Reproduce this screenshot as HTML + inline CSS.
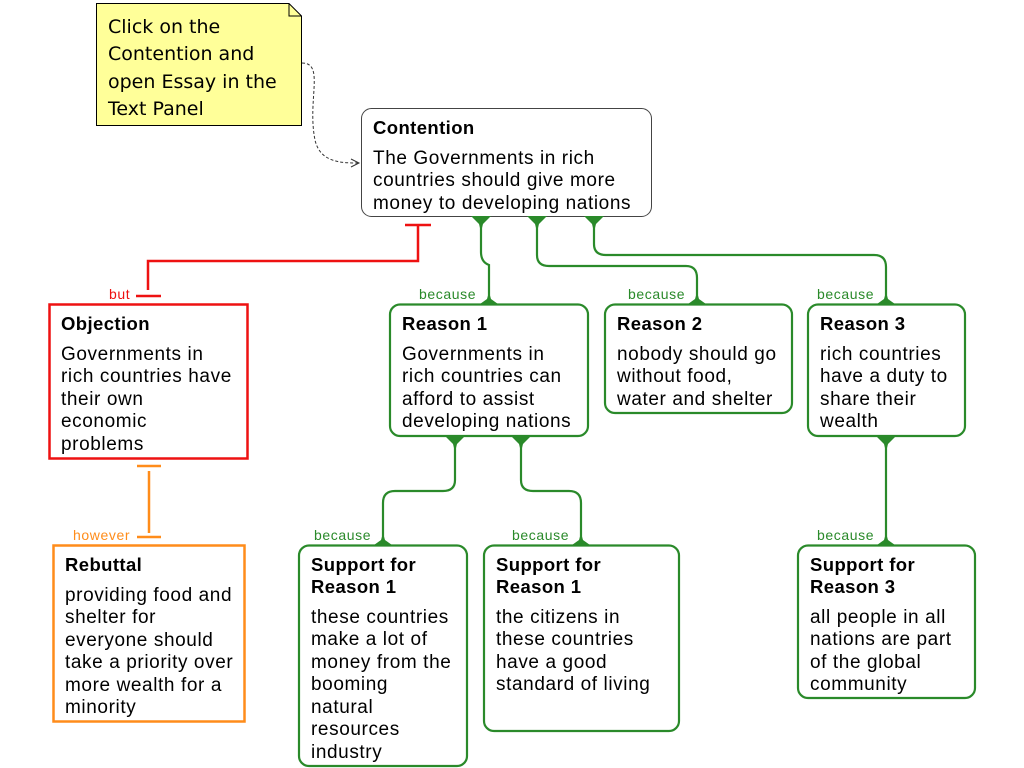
<!DOCTYPE html>
<html><head><style>
html,body{margin:0;padding:0;background:#fff;}
svg{display:block;font-family:"Liberation Sans",sans-serif;}
.t{font-weight:bold;font-size:18.5px;fill:#000;letter-spacing:0.4px;}
.b{font-size:19px;fill:#000;letter-spacing:0.6px;}
.n{font-size:19px;fill:#000;font-family:"DejaVu Sans","Liberation Sans",sans-serif;}
.g{fill:none;stroke:#2a8a2a;stroke-width:2.2;}
.lb{font-size:14px;letter-spacing:0.6px;}
</style></head><body>
<svg width="1024" height="768" viewBox="0 0 1024 768">
<path d="M96.5,3.5 H289 L301.5,16 V125.5 H96.5 Z" fill="#ffff99" stroke="#000" stroke-width="1"/>
<path d="M289,3.5 V16 H301.5" fill="none" stroke="#000" stroke-width="1"/>
<text class="n" x="108" y="33">Click on the</text>
<text class="n" x="108" y="60">Contention and</text>
<text class="n" x="108" y="88">open Essay in the</text>
<text class="n" x="108" y="115">Text Panel</text>
<path d="M302,63 C325,63 307,100 315,140 C320,162 340,163 358,163" fill="none" stroke="#333" stroke-width="1" stroke-dasharray="3,2"/>
<path d="M351,159 L359,163 L351,167" fill="none" stroke="#333" stroke-width="1"/>

<rect x="361.5" y="108.5" width="290" height="108" rx="10" fill="#fff" stroke="#444" stroke-width="1"/>
<text class="t" x="373" y="134">Contention</text>
<text class="b" x="373" y="164">The Governments in rich</text>
<text class="b" x="373" y="186">countries should give more</text>
<text class="b" x="373" y="209">money to developing nations</text>

<g stroke="#ee1111" stroke-width="2.5" fill="none">
<path d="M405,225 H431"/><path d="M418,225 V261 H148 V290"/><path d="M136,296 H161"/>
</g>
<text class="lb" x="109" y="299" fill="#ee1111">but</text>
<rect x="49.5" y="304.5" width="198" height="154" fill="#fff" stroke="#ee1111" stroke-width="2.5"/>
<text class="t" x="61" y="330">Objection</text>
<text class="b" x="61" y="360">Governments in</text>
<text class="b" x="61" y="382">rich countries have</text>
<text class="b" x="61" y="405">their own</text>
<text class="b" x="61" y="427">economic</text>
<text class="b" x="61" y="450">problems</text>

<g stroke="#ff8c1a" stroke-width="2.5" fill="none">
<path d="M137,466 H161"/><path d="M149,471 V533"/><path d="M137,537 H161"/>
</g>
<text class="lb" x="73" y="540" fill="#ff8c1a">however</text>
<rect x="53.5" y="545.5" width="191" height="176" fill="#fff" stroke="#ff8c1a" stroke-width="2.5"/>
<text class="t" x="65" y="571">Rebuttal</text>
<text class="b" x="65" y="601">providing food and</text>
<text class="b" x="65" y="623">shelter for</text>
<text class="b" x="65" y="646">everyone should</text>
<text class="b" x="65" y="668">take a priority over</text>
<text class="b" x="65" y="691">more wealth for a</text>
<text class="b" x="65" y="713">minority</text>

<g class="g">
<path d="M481,217 V252 Q481,262 489,265 V304"/>
<path d="M537,217 V255 Q537,266 549,266 H686 Q697,266 697,278 V304"/>
<path d="M594,217 V244 Q594,255 606,255 H874 Q886,255 886,267 V304"/>
<path d="M455,437 V480 Q455,491 443,491 H395 Q383,491 383,503 V545"/>
<path d="M521,437 V480 Q521,491 533,491 H569 Q581,491 581,503 V545"/>
<path d="M886,437 V545"/>
</g>
<g fill="#2a8a2a">
<path d="M471,216 H491 L483,224 L481,232 L479,224 Z"/>
<path d="M527,216 H547 L539,224 L537,232 L535,224 Z"/>
<path d="M584,216 H604 L596,224 L594,232 L592,224 Z"/>
<path d="M445,436 H465 L457,444 L455,452 L453,444 Z"/>
<path d="M511,436 H531 L523,444 L521,452 L519,444 Z"/>
<path d="M876,436 H896 L888,444 L886,452 L884,444 Z"/>
<path d="M489,292 L491,299 L498,304 H480 L487,299 Z"/>
<path d="M697,292 L699,299 L706,304 H688 L695,299 Z"/>
<path d="M886,292 L888,299 L895,304 H877 L884,299 Z"/>
<path d="M383,533 L385,540 L392,545 H374 L381,540 Z"/>
<path d="M581,533 L583,540 L590,545 H572 L579,540 Z"/>
<path d="M886,533 L888,540 L895,545 H877 L884,540 Z"/>
</g>
<g class="lb" fill="#2a8a2a">
<text x="419" y="299">because</text>
<text x="628" y="299">because</text>
<text x="817" y="299">because</text>
<text x="314" y="540">because</text>
<text x="512" y="540">because</text>
<text x="817" y="540">because</text>
</g>

<g fill="#fff" stroke="#2a8a2a" stroke-width="2.2">
<rect x="390" y="304.5" width="198" height="131.5" rx="10"/>
<rect x="605" y="304.5" width="187" height="108.5" rx="10"/>
<rect x="808" y="304.5" width="157" height="131.5" rx="10"/>
<rect x="299" y="545.5" width="168" height="220.5" rx="10"/>
<rect x="484" y="545.5" width="195" height="185.5" rx="10"/>
<rect x="798" y="545.5" width="177" height="152.5" rx="10"/>
</g>

<text class="t" x="402" y="330">Reason 1</text>
<text class="b" x="402" y="360">Governments in</text>
<text class="b" x="402" y="382">rich countries can</text>
<text class="b" x="402" y="405">afford to assist</text>
<text class="b" x="402" y="427">developing nations</text>

<text class="t" x="617" y="330">Reason 2</text>
<text class="b" x="617" y="360">nobody should go</text>
<text class="b" x="617" y="382">without food,</text>
<text class="b" x="617" y="405">water and shelter</text>

<text class="t" x="820" y="330">Reason 3</text>
<text class="b" x="820" y="360">rich countries</text>
<text class="b" x="820" y="382">have a duty to</text>
<text class="b" x="820" y="405">share their</text>
<text class="b" x="820" y="427">wealth</text>

<text class="t" x="311" y="571">Support for</text>
<text class="t" x="311" y="593">Reason 1</text>
<text class="b" x="311" y="623">these countries</text>
<text class="b" x="311" y="645">make a lot of</text>
<text class="b" x="311" y="668">money from the</text>
<text class="b" x="311" y="690">booming</text>
<text class="b" x="311" y="713">natural</text>
<text class="b" x="311" y="735">resources</text>
<text class="b" x="311" y="758">industry</text>

<text class="t" x="496" y="571">Support for</text>
<text class="t" x="496" y="593">Reason 1</text>
<text class="b" x="496" y="623">the citizens in</text>
<text class="b" x="496" y="645">these countries</text>
<text class="b" x="496" y="668">have a good</text>
<text class="b" x="496" y="690">standard of living</text>

<text class="t" x="810" y="571">Support for</text>
<text class="t" x="810" y="593">Reason 3</text>
<text class="b" x="810" y="623">all people in all</text>
<text class="b" x="810" y="645">nations are part</text>
<text class="b" x="810" y="668">of the global</text>
<text class="b" x="810" y="690">community</text>
</svg>
</body></html>
